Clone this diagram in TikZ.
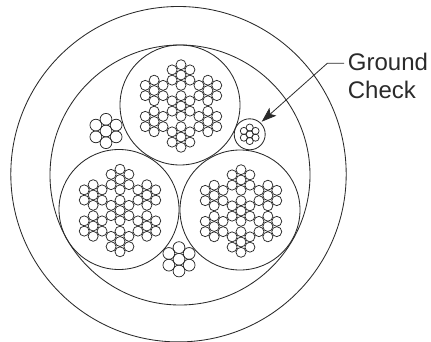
\documentclass[tikz,border=0pt]{standalone}
\usepackage{fontspec}
\setmainfont{Liberation Sans}
\usetikzlibrary{arrows.meta}
\definecolor{ink}{HTML}{2A2A2A}
\tikzset{
  wire/.style={draw=ink,line width=0.85pt},
  strand/.style={draw=ink,line width=0.75pt},
  leader/.style={draw=ink,line width=0.8pt,-{Stealth[length=15pt,width=10.5pt,inset=3.5pt]}},
  label/.style={anchor=base west,inner sep=0pt,text=ink,font=\fontsize{24}{27.6}\selectfont}
}
% flower of seven strands: centre x, y, distance, strand radius
\newcommand{\flower}[4]{%
  \draw[strand] ({#1},{#2}) circle[radius=#4];
  \foreach \a in {30,90,...,330}
    \draw[strand] ({#1+#3*cos(\a)},{#2+#3*sin(\a)}) circle[radius=#4];
}
% conductor: centre x, y
\newcommand{\conductor}[2]{%
  \draw[wire] (#1,#2) circle[radius=60];
  \flower{#1+1}{#2+1}{10.3}{5}
  \foreach \b in {30,90,...,330}{
    \pgfmathsetmacro{\fx}{#1+1+31*cos(\b)}
    \pgfmathsetmacro{\fy}{#2+1+31*sin(\b)}
    \flower{\fx}{\fy}{10.3}{5}
  }
}
\begin{document}
\begin{tikzpicture}[x=1pt,y=-1pt]
\useasboundingbox (0,0) rectangle (431,342);
\draw[wire] (178.5,174.2) circle[radius=167.7];
\draw[wire] (180,175) circle[radius=130];
\conductor{180}{105}
\conductor{119}{209.5}
\conductor{240}{210}
\flower{106}{131}{11.7}{5.9}
\flower{179}{259.3}{11.7}{5.9}
\draw[wire] (249.7,134.3) circle[radius=15.5];
\flower{249.7}{134.3}{6.7}{3.6}
\node[label] (ground) at (347.7,70.7) {Ground};
\node[label] (check) at (347.7,98.3) {Check};
\coordinate (bend) at (327.3,63.3);
\coordinate (tip) at (261.7,121.7);
\coordinate (start) at ([xshift=-3.5pt,yshift=7.4pt]ground.base west);
\draw[leader] (start) -- (bend) -- (tip);
\end{tikzpicture}
\end{document}
